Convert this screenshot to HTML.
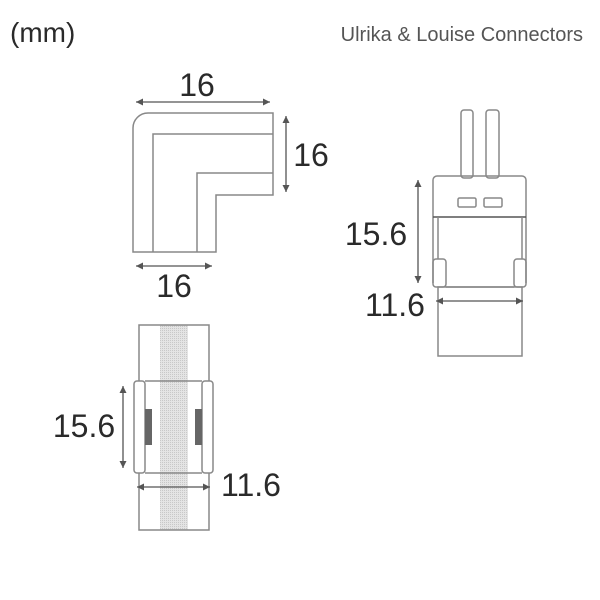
<!DOCTYPE html>
<html><head><style>
html,body{margin:0;padding:0;background:#fff;}
svg{display:block;}
text{font-family:"Liberation Sans",sans-serif;fill:#2a2a2a;}
</style></head><body>
<svg width="600" height="600" viewBox="0 0 600 600" xmlns="http://www.w3.org/2000/svg">
<defs>
<marker id="a" markerWidth="8" markerHeight="8" refX="7" refY="4" orient="auto-start-reverse" markerUnits="userSpaceOnUse">
<path d="M0,0.5 L7,4 L0,7.5 Z" fill="#555"/></marker>
<pattern id="dots" width="2" height="2" patternUnits="userSpaceOnUse"><rect width="2" height="2" fill="#e4e4e4"/><rect width="1" height="1" fill="#c8c8c8"/></pattern>
</defs>
<text x="10" y="42" font-size="28" fill="#333">(mm)</text>
<text x="583" y="41" font-size="20" text-anchor="end" fill="#555" style="fill:#555">Ulrika &amp; Louise Connectors</text>

<g fill="none" stroke="#888" stroke-width="1.5">
<!-- elbow -->
<path d="M133,252 V128 A15,15 0 0 1 148,113 H273 V195 H216 V252 Z"/>
<path d="M153,252 V134 H273"/>
<path d="M197,252 V173 H273"/>
<!-- right connector -->
<rect x="461" y="110" width="12" height="68" rx="3"/>
<rect x="486" y="110" width="13" height="68" rx="3"/>
<path d="M433,283 V180 A4,4 0 0 1 437,176 H522 A4,4 0 0 1 526,180 V283"/>
<line x1="433" y1="217" x2="526" y2="217" stroke="#555"/>
<rect x="458" y="198" width="18" height="9" rx="1.5"/>
<rect x="484" y="198" width="18" height="9" rx="1.5"/>
<line x1="438" y1="217" x2="438" y2="259"/>
<line x1="522" y1="217" x2="522" y2="259"/>
<rect x="433" y="259" width="13" height="28" rx="3"/>
<rect x="514" y="259" width="12" height="28" rx="3"/>
<line x1="446" y1="287" x2="514" y2="287"/>
<rect x="438" y="287" width="84" height="69"/>
<!-- bottom connector -->
<rect x="160" y="325" width="28" height="205" fill="url(#dots)" stroke="none"/>
<rect x="139" y="325" width="70" height="205"/>
<rect x="134" y="381" width="11" height="92" rx="3" fill="#fff"/>
<rect x="202" y="381" width="11" height="92" rx="3" fill="#fff"/>
<line x1="145" y1="381" x2="202" y2="381"/>
<line x1="145" y1="473" x2="202" y2="473"/>
<rect x="145" y="409" width="7" height="36" fill="#666" stroke="none"/>
<rect x="195" y="409" width="7" height="36" fill="#666" stroke="none"/>
</g>

<g stroke="#555" stroke-width="1.3" fill="none">
<line x1="136" y1="102" x2="270" y2="102" marker-start="url(#a)" marker-end="url(#a)"/>
<line x1="286" y1="116" x2="286" y2="192" marker-start="url(#a)" marker-end="url(#a)"/>
<line x1="136" y1="266" x2="212" y2="266" marker-start="url(#a)" marker-end="url(#a)"/>
<line x1="418" y1="180" x2="418" y2="283" marker-start="url(#a)" marker-end="url(#a)"/>
<line x1="436" y1="301" x2="523" y2="301" marker-start="url(#a)" marker-end="url(#a)"/>
<line x1="123" y1="386" x2="123" y2="468" marker-start="url(#a)" marker-end="url(#a)"/>
<line x1="137" y1="487" x2="210" y2="487" marker-start="url(#a)" marker-end="url(#a)"/>
</g>

<text x="197" y="96" font-size="32" text-anchor="middle">16</text>
<text x="311" y="166" font-size="32" text-anchor="middle">16</text>
<text x="174" y="297" font-size="32" text-anchor="middle">16</text>
<text x="376" y="245" font-size="32" text-anchor="middle">15.6</text>
<text x="395" y="316" font-size="32" text-anchor="middle">11.6</text>
<text x="84" y="437" font-size="32" text-anchor="middle">15.6</text>
<text x="251" y="496" font-size="32" text-anchor="middle">11.6</text>
</svg>
</body></html>
